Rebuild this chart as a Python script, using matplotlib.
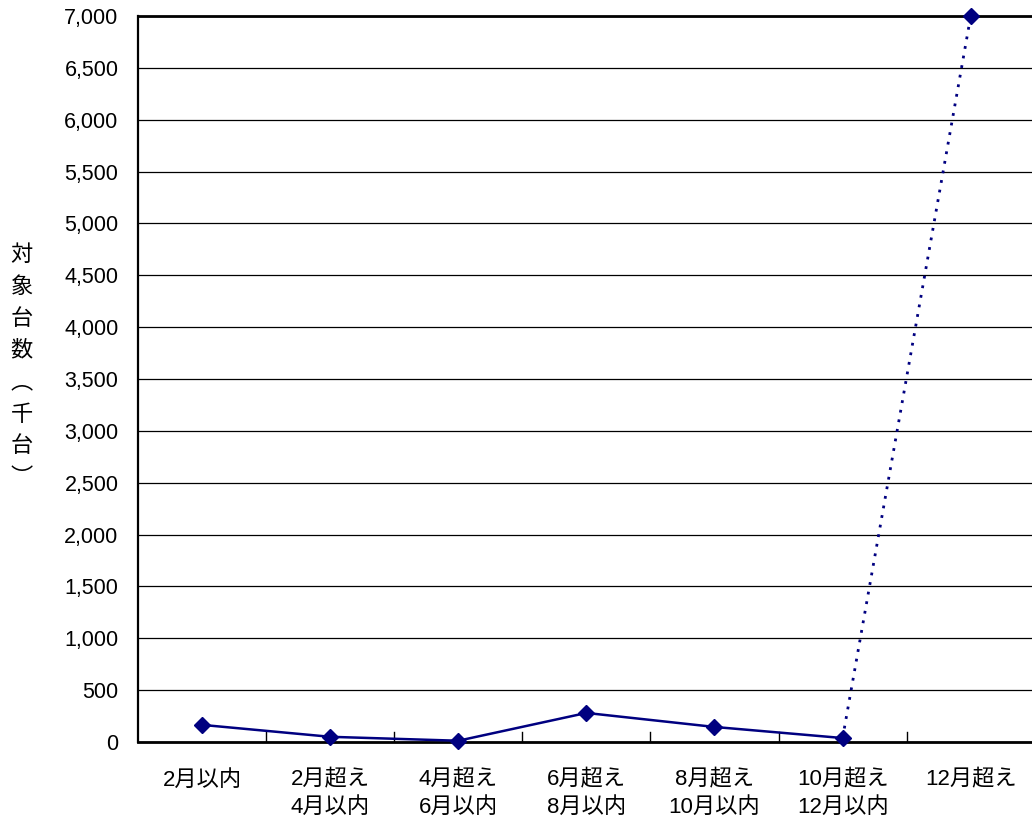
import matplotlib
matplotlib.use("Agg")
import matplotlib.pyplot as plt

plt.rcParams['font.family'] = ['Liberation Sans', 'Noto Sans CJK JP', 'DejaVu Sans']

categories = ['2月以内', '2月超え\n4月以内', '4月超え\n6月以内', '6月超え\n8月以内',
              '8月超え\n10月以内', '10月超え\n12月以内', '12月超え']
counts = [165, 50, 12, 280, 145, 38, 7000]
yticks = list(range(0, 7001, 500))

navy = '#000080'

fig = plt.figure(figsize=(10.32, 8.27), dpi=100)
ax = fig.add_axes([0.1337, 0.1028, 0.869, 0.8779])

x = list(range(len(categories)))
# solid line up to the 10-12 month bucket, dotted jump to the last one
ax.plot(x[:6], counts[:6], color=navy, lw=1.8, zorder=3)
ax.plot(x[5:], counts[5:], color=navy, lw=2, ls=(0, (1, 2.5)), zorder=3)
ax.plot(x, counts, ls='none', marker='D', ms=8, color=navy, zorder=4, clip_on=False)

ax.set_xlim(-0.5, len(categories) - 0.5)
ax.set_ylim(0, 7000)
ax.set_yticks(yticks)
ax.set_yticklabels([f'{v:,}' for v in yticks], fontsize=15.5)
ax.set_xticks(x)
ax.set_xticklabels(categories, fontsize=16, linespacing=1.4, va='top')
ax.tick_params(axis='x', length=0, pad=20)
ax.tick_params(axis='y', length=0, pad=14)

# category boundary ticks pointing into the plot
for b in [i + 0.5 for i in range(len(categories) - 1)]:
    ax.plot([b, b], [0, 100], color='black', lw=1, zorder=2)

ax.yaxis.grid(True, color='black', lw=0.9)
ax.set_axisbelow(True)
ax.spines['right'].set_visible(False)
ax.spines['left'].set_linewidth(1.6)
ax.spines['bottom'].set_linewidth(2)
ax.spines['top'].set_linewidth(2)

ylabel = '\n'.join(['対', '象', '台', '数', '︵', '千', '台', '︶'])
fig.text(0.021, 0.556, ylabel, fontsize=16, ha='center', va='center', linespacing=1.68)

fig.savefig('out.png', dpi=100)
